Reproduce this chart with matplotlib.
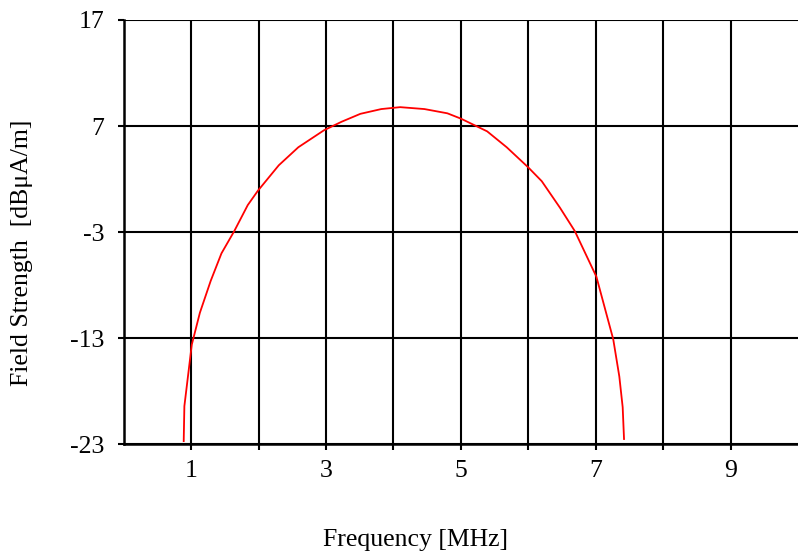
import matplotlib
matplotlib.use("Agg")
import matplotlib.pyplot as plt

freq = [0.89, 0.90, 1.01, 1.13, 1.29, 1.45, 1.64, 1.84, 1.99, 2.30, 2.59, 2.97,
        3.23, 3.51, 3.82, 4.10, 4.46, 4.80, 5.00, 5.39, 5.68, 6.00, 6.20, 6.47,
        6.69, 7.01, 7.26, 7.35, 7.40, 7.42]
field = [-22.7, -19.4, -13.6, -10.6, -7.6, -5.0, -2.9, -0.45, 0.9, 3.3, 5.0, 6.6,
         7.4, 8.15, 8.6, 8.78, 8.6, 8.2, 7.7, 6.5, 5.0, 3.1, 1.8, -0.7,
         -2.9, -7.2, -13.1, -16.6, -19.5, -22.5]

x_ticks = [1, 2, 3, 4, 5, 6, 7, 8, 9]
x_labels = ["1", "", "3", "", "5", "", "7", "", "9"]
y_ticks = [-23, -13, -3, 7, 17]

plt.rcParams['font.family'] = ['Liberation Serif', 'DejaVu Serif']
plt.rcParams['axes.unicode_minus'] = False

fig = plt.figure(figsize=(7.98, 5.54), dpi=100)
ax = fig.add_axes([0.155, 0.198, 0.845, 0.766])

ax.plot(freq, field, color="red", linewidth=1.3, zorder=3)

ax.set_xlim(0, 10)
ax.set_ylim(-23, 17)
ax.set_xticks(x_ticks)
ax.set_xticklabels(x_labels)
ax.set_yticks(y_ticks)
ax.grid(True, color="black", linewidth=1.5)
ax.set_axisbelow(True)

for s in ["top", "right"]:
    ax.spines[s].set_visible(False)
for s in ["left", "bottom"]:
    ax.spines[s].set_linewidth(1.8)
    ax.spines[s].set_zorder(4)

ax.tick_params(axis="both", direction="out", length=4, width=1.5, labelsize=18.5, colors="black")
ax.tick_params(axis="x", pad=7)
ax.tick_params(axis="y", pad=10)

fig.text(0.028, 0.543, "Field Strength  [dBμA/m]", rotation=90, ha="center", va="center", fontsize=18.5)
fig.text(0.521, 0.025, "Frequency [MHz]", ha="center", va="center", fontsize=18.5)

fig.savefig("out.png", dpi=100)
